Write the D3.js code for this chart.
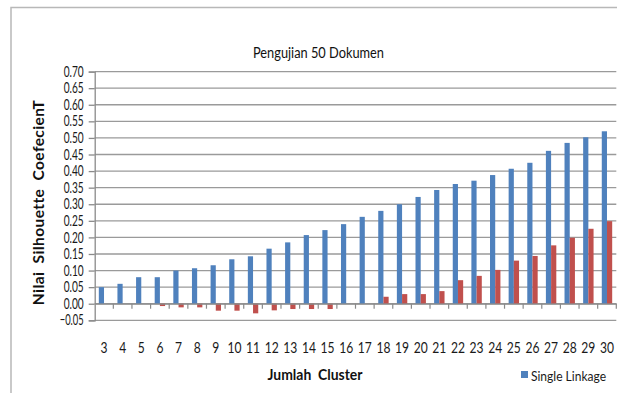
<!DOCTYPE html>
<html><head><meta charset="utf-8">
<script src="https://cdn.jsdelivr.net/npm/d3@7"></script>
<style>
html,body{margin:0;padding:0;background:#fff;}
svg{display:block;}
text{font-family:Lato,'Open Sans',sans-serif;}
</style></head>
<body><svg id="c" width="617" height="393"></svg>
<script>
const categories = [3,4,5,6,7,8,9,10,11,12,13,14,15,16,17,18,19,20,21,22,23,24,25,26,27,28,29,30];
const singleLinkage = [0.05,0.06,0.08,0.08,0.10,0.107,0.116,0.134,0.143,0.166,0.185,0.207,0.222,0.24,0.262,0.28,0.30,0.322,0.343,0.361,0.371,0.388,0.407,0.425,0.461,0.485,0.502,0.52];
const secondSeries = [0,0,0,-0.007,-0.011,-0.011,-0.021,-0.021,-0.029,-0.02,-0.016,-0.016,-0.016,0,0,0.021,0.029,0.029,0.038,0.071,0.084,0.102,0.13,0.144,0.176,0.199,0.226,0.249];
const yTicks = [-0.05,0,0.05,0.10,0.15,0.20,0.25,0.30,0.35,0.40,0.45,0.50,0.55,0.60,0.65,0.70];
const seriesNames = ["Single Linkage","Series 2"];
const colors = ["#4F81BD","#C0504D"];
const title = "Pengujian 50 Dokumen";
const yTitle = "Nilai  Silhouette  CoefecienT";
const xTitle = "Jumlah  Cluster";

const svg = d3.select("#c");
// frame
svg.append("path").attr("d","M11,393 V7.5 H617").attr("fill","none").attr("stroke","#b8b8b8").attr("stroke-width",1.5);

const L=94.7, R=616.3, T=71.6, B=320.3;
const x = d3.scaleBand().domain(categories).range([L,R]).paddingInner(0).paddingOuter(0);
const x1 = d3.scaleBand().domain(seriesNames).range([0,x.bandwidth()]).paddingInner(0).paddingOuter(0.79);
const y = d3.scaleLinear().domain([-0.05,0.70]).range([B,T]);

// grid
svg.append("g").selectAll("line").data(yTicks).join("line")
  .attr("x1",L).attr("x2",R).attr("y1",d=>y(d)).attr("y2",d=>y(d))
  .attr("stroke","#9a9a9a").attr("stroke-width",1.3);

// y axis
const ya = svg.append("g").attr("transform",`translate(${L},0)`)
  .call(d3.axisLeft(y).tickValues(yTicks).tickFormat(d3.format(".2f")).tickSize(6).tickPadding(5));
ya.select(".domain").attr("stroke","#8a8a8a").attr("stroke-width",1.3);
ya.selectAll(".tick line").attr("stroke","#8a8a8a").attr("stroke-width",1.3);
ya.selectAll(".tick text").attr("font-size",14.5).attr("fill","#1a1a1a")
  .attr("font-family","Lato,sans-serif").attr("textLength",d=>d<0?24:20).attr("lengthAdjust","spacingAndGlyphs");

// bars
const data = categories.map((c,i)=>({c, vals:[singleLinkage[i], secondSeries[i]]}));
const g = svg.append("g").selectAll("g").data(data).join("g")
  .attr("transform",d=>`translate(${x(d.c)},0)`);
g.selectAll("rect").data(d=>d.vals.map((v,k)=>({v,k}))).join("rect")
  .attr("x",d=>x1(seriesNames[d.k])).attr("width",x1.bandwidth())
  .attr("y",d=>Math.min(y(d.v),y(0))).attr("height",d=>Math.abs(y(d.v)-y(0)))
  .attr("fill",d=>colors[d.k]);

// x axis at zero
const xa = svg.append("g").attr("transform",`translate(0,${y(0)})`)
  .call(d3.axisBottom(x).tickSize(0).tickFormat(""));
xa.select(".domain").attr("stroke","#8a8a8a").attr("stroke-width",1.3);
// boundary tick marks
svg.append("g").selectAll("line").data(categories).join("line")
  .attr("x1",d=>x(d)+x.bandwidth()).attr("x2",d=>x(d)+x.bandwidth())
  .attr("y1",y(0)).attr("y2",y(0)+5).attr("stroke","#8a8a8a").attr("stroke-width",1.2);
// category labels (low)
svg.append("g").selectAll("text").data(categories).join("text")
  .attr("x",d=>x(d)+x.bandwidth()/2).attr("y",352.5)
  .attr("text-anchor","middle").attr("font-size",15).attr("fill","#1a1a1a")
  .attr("textLength",d=>d<10?7:14).attr("lengthAdjust","spacingAndGlyphs").text(d=>d);

// titles
svg.append("text").attr("x",318.5).attr("y",58).attr("text-anchor","middle")
  .attr("font-size",14.5).attr("fill","#111").attr("textLength",131).attr("lengthAdjust","spacingAndGlyphs").text(title);
svg.append("text").attr("transform","translate(44,202.5) rotate(-90)").attr("text-anchor","middle")
  .attr("font-size",15.5).attr("font-weight","bold").attr("fill","#111")
  .attr("font-family","'DejaVu Sans',sans-serif").style("white-space","pre")
  .attr("letter-spacing",0.4).text(yTitle);
svg.append("text").attr("x",315).attr("y",380).attr("text-anchor","middle")
  .attr("font-size",15.5).attr("font-weight","bold").attr("fill","#111").style("white-space","pre")
  .attr("textLength",95).attr("lengthAdjust","spacingAndGlyphs").text(xTitle);

// legend
svg.append("rect").attr("x",521).attr("y",371).attr("width",7).attr("height",7).attr("fill",colors[0]);
svg.append("text").attr("x",531).attr("y",381).attr("font-size",14).attr("fill","#1a1a1a")
  .attr("textLength",75).attr("lengthAdjust","spacingAndGlyphs").text(seriesNames[0]);
</script></body></html>
